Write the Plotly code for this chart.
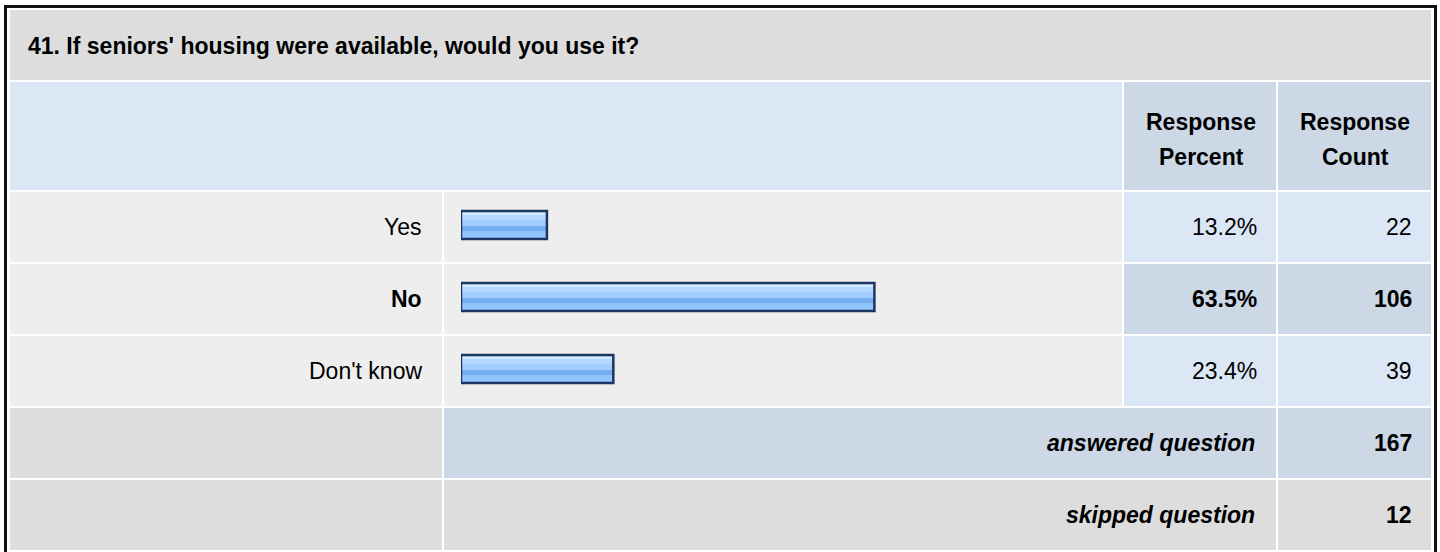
import plotly.graph_objects as go

# ---- data ----
title_text = "41. If seniors' housing were available, would you use it?"
categories = ["Yes", "No", "Don't know"]
percents = [13.2, 63.5, 23.4]
counts = [22, 106, 39]
highlight = [False, True, False]
answered_label = "answered question"
answered_count = 167
skipped_label = "skipped question"
skipped_count = 12
header_percent = ["Response", "Percent"]
header_count = ["Response", "Count"]

W, H = 1440, 552
FONT = "Arial, 'Liberation Sans', Helvetica, sans-serif"
FS = 23

def px(x):
    return x / W

def py(y):
    return 1 - y / H

shapes = []

def rect(x0, y0, x1, y1, color):
    shapes.append(dict(type="rect", xref="paper", yref="paper",
                       x0=px(x0), x1=px(x1), y0=py(y1), y1=py(y0),
                       fillcolor=color, line=dict(width=0), layer="below"))

GRAY = "#dddddd"
LIGHT = "#eeeeee"
BLUE_L = "#dce7f5"
BLUE_D = "#ccd8e6"

# outer frame
rect(4, 5, 1437, 560, "#111111")
rect(7, 8, 1434, 560, "#ffffff")

# columns
C_LABEL = (10, 442)
C_BAR = (444, 1122)
C_PCT = (1124, 1276)
C_CNT = (1278, 1431)

# title row
rect(10, 10, 1431, 80, GRAY)
# header row
rect(10, 82, 1122, 190, BLUE_L)
rect(C_PCT[0], 82, C_PCT[1], 190, BLUE_D)
rect(C_CNT[0], 82, C_CNT[1], 190, BLUE_D)

row_tops = [192, 264, 336]
row_h = 70
for i, top in enumerate(row_tops):
    bot = top + row_h
    rect(C_LABEL[0], top, C_LABEL[1], bot, LIGHT)
    rect(C_BAR[0], top, C_BAR[1], bot, LIGHT)
    c = BLUE_D if highlight[i] else BLUE_L
    rect(C_PCT[0], top, C_PCT[1], bot, c)
    rect(C_CNT[0], top, C_CNT[1], bot, c)

# answered row
rect(C_LABEL[0], 408, C_LABEL[1], 478, GRAY)
rect(C_BAR[0], 408, C_PCT[1], 478, BLUE_D)
rect(C_CNT[0], 408, C_CNT[1], 478, BLUE_D)
# skipped row
rect(C_LABEL[0], 480, C_LABEL[1], 550, GRAY)
rect(C_BAR[0], 480, C_PCT[1], 550, GRAY)
rect(C_CNT[0], 480, C_CNT[1], 550, GRAY)

annotations = []

def text(x, y, s, anchor="right", bold=False, italic=False, size=FS):
    annotations.append(dict(xref="paper", yref="paper", x=px(x), y=py(y),
                            text=s, showarrow=False, xanchor=anchor, yanchor="middle",
                            align=anchor if anchor != "center" else "center",
                            font=dict(family=FONT, size=size, color="#000000",
                                      weight="bold" if bold else "normal",
                                      style="italic" if italic else "normal")))

text(26, 46, title_text, anchor="left", bold=True)
text(1201, 122, header_percent[0], anchor="center", bold=True)
text(1201, 157, header_percent[1], anchor="center", bold=True)
text(1355, 122, header_count[0], anchor="center", bold=True)
text(1355, 157, header_count[1], anchor="center", bold=True)

for i, top in enumerate(row_tops):
    cy = top + 35
    b = highlight[i]
    text(424, cy, categories[i], bold=b)
    text(1259, cy, f"{percents[i]:.1f}%", bold=b)
    text(1414, cy, str(counts[i]), bold=b)

text(1257, 443, answered_label, bold=True, italic=True)
text(1414, 443, str(answered_count), bold=True)
text(1257, 515, skipped_label, bold=True, italic=True)
text(1414, 515, str(skipped_count), bold=True)

# ---- bars (gradient built from stacked overlay stripes) ----
UNIT = 72.0  # px per category
stripes = [(-14, -10, "#d2e9ff"), (-10, -5, "#b5daff"), (-5, 1, "#a0ceff"),
           (1, 6, "#77aef1"), (6, 14, "#92c5fc")]

fig = go.Figure()
for a, b, col in stripes:
    fig.add_trace(go.Bar(x=percents, y=categories, orientation="h",
                         offset=a / UNIT, width=(b - a) / UNIT,
                         marker=dict(color=col, line=dict(width=0)),
                         xaxis="x2", yaxis="y2", hoverinfo="skip", showlegend=False))
fig.add_trace(go.Bar(x=percents, y=categories, orientation="h",
                     offset=-14 / UNIT, width=28 / UNIT,
                     marker=dict(color="rgba(0,0,0,0)", line=dict(width=2.5, color="#1d3660")),
                     xaxis="x2", yaxis="y2", hoverinfo="skip", showlegend=False))

fig.update_layout(
    width=W, height=H,
    margin=dict(l=0, r=0, t=0, b=0),
    paper_bgcolor="#ffffff", plot_bgcolor="rgba(0,0,0,0)",
    barmode="overlay",
    xaxis=dict(visible=False, range=[0, 1], fixedrange=True),
    yaxis=dict(visible=False, range=[0, 1], fixedrange=True),
    xaxis2=dict(domain=[px(461), px(461 + 651)], range=[0, 100], visible=False,
                anchor="y2", fixedrange=True),
    yaxis2=dict(domain=[py(405), py(189)], range=[2.5, -0.5], visible=False,
                type="category", categoryarray=categories, categoryorder="array",
                anchor="x2", fixedrange=True),
    shapes=shapes,
    annotations=annotations,
    showlegend=False,
)

fig.write_html("out.html", config={"displayModeBar": False},
               post_script="document.body.style.margin='0';document.body.style.overflow='hidden';")
